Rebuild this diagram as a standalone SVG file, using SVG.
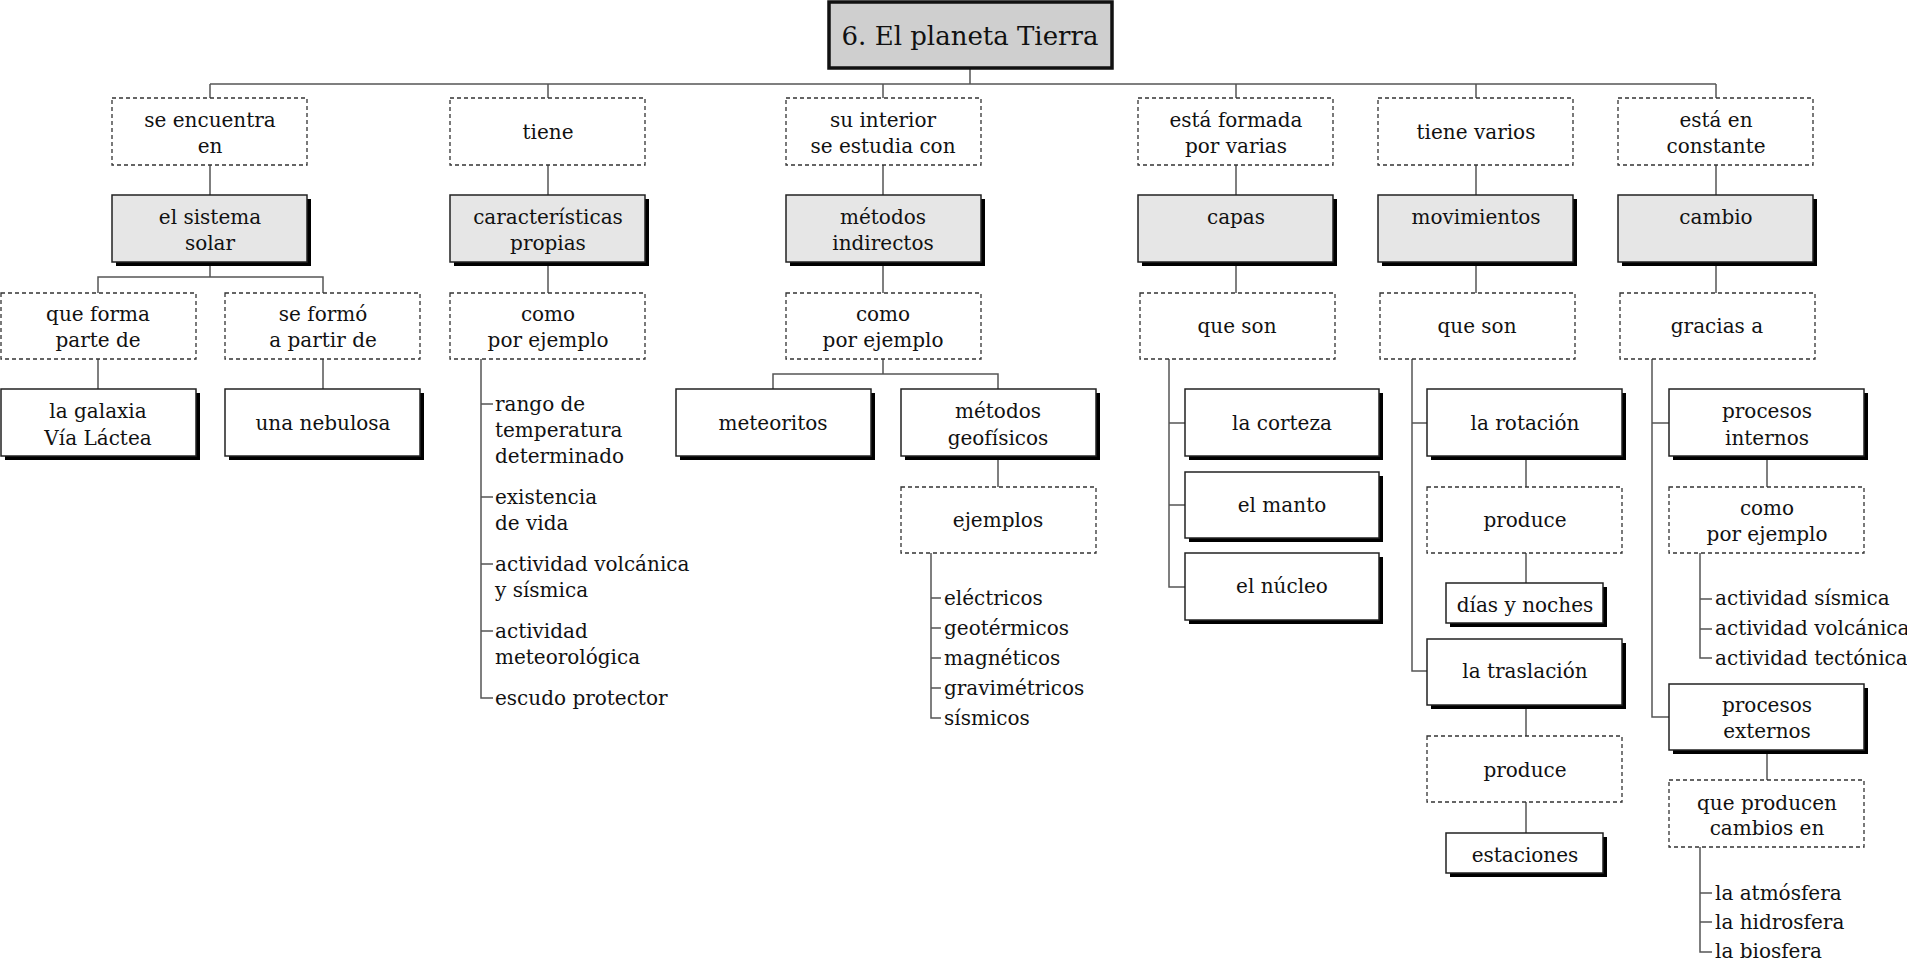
<svg xmlns="http://www.w3.org/2000/svg" width="1907" height="964" viewBox="0 0 1907 964">
<style>
.d{fill:#fff;stroke:#333;stroke-width:1.3;stroke-dasharray:4 3}
.g{fill:#e6e6e6;stroke:#222;stroke-width:1.5}
.w{fill:#fff;stroke:#222;stroke-width:1.5}
.sh{fill:#000}
.t{font-family:"DejaVu Serif","Liberation Serif",serif;font-size:20px;fill:#111;text-anchor:middle}
.l{font-family:"DejaVu Serif","Liberation Serif",serif;font-size:20px;fill:#111;text-anchor:start}
.c{fill:none;stroke:#555;stroke-width:1.5}
</style>
<rect width="1907" height="964" fill="#fff"/>
<g id="connectors">
<path class="c" d="M970 69V84M210 84H1716M210 84V98M548 84V98M883 84V98M1236 84V98M1476 84V98M1716 84V98"/>
<path class="c" d="M210 165V195M548 165V195M883 165V195M1236 165V195M1476 165V195M1716 165V195"/>
<path class="c" d="M210 262V277M98 293V277H323V293M548 262V293M883 262V293M1236 262V293M1476 262V293M1716 262V293"/>
<path class="c" d="M98 359V389M323 359V389"/>
<path class="c" d="M481 359V698H493M481 404H493M481 497H493M481 564H493M481 631H493"/>
<path class="c" d="M883 359V374M773 389V374H998V389M998 456V487"/>
<path class="c" d="M931 553V718H941M931 598H941M931 628H941M931 658H941M931 688H941"/>
<path class="c" d="M1169 359V587H1185M1169 423H1185M1169 505H1185"/>
<path class="c" d="M1412 359V671H1427M1412 423H1427M1526 456V487M1526 553V583M1526 705V736M1526 802V833"/>
<path class="c" d="M1652 359V717H1669M1652 423H1669M1767 456V487M1767 750V780"/>
<path class="c" d="M1700 553V658H1712M1700 599H1712M1700 629H1712"/>
<path class="c" d="M1700 847V952H1712M1700 893H1712M1700 922H1712"/>
</g>
<g id="title">
<rect x="829" y="2" width="283" height="66" fill="#cfcfcf" stroke="#111" stroke-width="3.5"/>
<text class="t" x="970" y="45" style="font-size:26px">6. El planeta Tierra</text>
</g>
<g id="se-encuentra-en"><rect class="d" x="112" y="98" width="195" height="67"/><text class="t" x="210" y="127">se encuentra</text><text class="t" x="210" y="153">en</text></g>
<g id="tiene"><rect class="d" x="450" y="98" width="195" height="67"/><text class="t" x="548" y="139">tiene</text></g>
<g id="su-interior"><rect class="d" x="786" y="98" width="195" height="67"/><text class="t" x="883" y="127">su interior</text><text class="t" x="883" y="153">se estudia con</text></g>
<g id="esta-formada"><rect class="d" x="1138" y="98" width="195" height="67"/><text class="t" x="1236" y="127">está formada</text><text class="t" x="1236" y="153">por varias</text></g>
<g id="tiene-varios"><rect class="d" x="1378" y="98" width="195" height="67"/><text class="t" x="1476" y="139">tiene varios</text></g>
<g id="esta-en-constante"><rect class="d" x="1618" y="98" width="195" height="67"/><text class="t" x="1716" y="127">está en</text><text class="t" x="1716" y="153">constante</text></g>

<g id="sistema-solar"><rect class="sh" x="116" y="199" width="195" height="67"/><rect class="g" x="112" y="195" width="195" height="67"/><text class="t" x="210" y="224">el sistema</text><text class="t" x="210" y="250">solar</text></g>
<g id="caracteristicas"><rect class="sh" x="454" y="199" width="195" height="67"/><rect class="g" x="450" y="195" width="195" height="67"/><text class="t" x="548" y="224">características</text><text class="t" x="548" y="250">propias</text></g>
<g id="metodos-indirectos"><rect class="sh" x="790" y="199" width="195" height="67"/><rect class="g" x="786" y="195" width="195" height="67"/><text class="t" x="883" y="224">métodos</text><text class="t" x="883" y="250">indirectos</text></g>
<g id="capas"><rect class="sh" x="1142" y="199" width="195" height="67"/><rect class="g" x="1138" y="195" width="195" height="67"/><text class="t" x="1236" y="224">capas</text></g>
<g id="movimientos"><rect class="sh" x="1382" y="199" width="195" height="67"/><rect class="g" x="1378" y="195" width="195" height="67"/><text class="t" x="1476" y="224">movimientos</text></g>
<g id="cambio"><rect class="sh" x="1622" y="199" width="195" height="67"/><rect class="g" x="1618" y="195" width="195" height="67"/><text class="t" x="1716" y="224">cambio</text></g>

<g id="que-forma-parte"><rect class="d" x="1" y="293" width="195" height="66"/><text class="t" x="98" y="321">que forma</text><text class="t" x="98" y="347">parte de</text></g>
<g id="se-formo"><rect class="d" x="225" y="293" width="195" height="66"/><text class="t" x="323" y="321">se formó</text><text class="t" x="323" y="347">a partir de</text></g>
<g id="como-ej-1"><rect class="d" x="450" y="293" width="195" height="66"/><text class="t" x="548" y="321">como</text><text class="t" x="548" y="347">por ejemplo</text></g>
<g id="como-ej-2"><rect class="d" x="786" y="293" width="195" height="66"/><text class="t" x="883" y="321">como</text><text class="t" x="883" y="347">por ejemplo</text></g>
<g id="que-son-1"><rect class="d" x="1140" y="293" width="195" height="66"/><text class="t" x="1237" y="333">que son</text></g>
<g id="que-son-2"><rect class="d" x="1380" y="293" width="195" height="66"/><text class="t" x="1477" y="333">que son</text></g>
<g id="gracias-a"><rect class="d" x="1620" y="293" width="195" height="66"/><text class="t" x="1717" y="333">gracias a</text></g>

<g id="galaxia"><rect class="sh" x="5" y="393" width="195" height="67"/><rect class="w" x="1" y="389" width="195" height="67"/><text class="t" x="98" y="418">la galaxia</text><text class="t" x="98" y="445">Vía Láctea</text></g>
<g id="nebulosa"><rect class="sh" x="229" y="393" width="195" height="67"/><rect class="w" x="225" y="389" width="195" height="67"/><text class="t" x="323" y="430">una nebulosa</text></g>

<g id="rango"><text class="l" x="495" y="411">rango de</text><text class="l" x="495" y="437">temperatura</text><text class="l" x="495" y="463">determinado</text></g>
<g id="existencia"><text class="l" x="495" y="504">existencia</text><text class="l" x="495" y="530">de vida</text></g>
<g id="act-volc-sism"><text class="l" x="495" y="571">actividad volcánica</text><text class="l" x="495" y="597">y sísmica</text></g>
<g id="act-meteo"><text class="l" x="495" y="638">actividad</text><text class="l" x="495" y="664">meteorológica</text></g>
<g id="escudo"><text class="l" x="495" y="705">escudo protector</text></g>

<g id="meteoritos"><rect class="sh" x="680" y="393" width="195" height="67"/><rect class="w" x="676" y="389" width="195" height="67"/><text class="t" x="773" y="430">meteoritos</text></g>
<g id="metodos-geofisicos"><rect class="sh" x="905" y="393" width="195" height="67"/><rect class="w" x="901" y="389" width="195" height="67"/><text class="t" x="998" y="418">métodos</text><text class="t" x="998" y="445">geofísicos</text></g>
<g id="ejemplos"><rect class="d" x="901" y="487" width="195" height="66"/><text class="t" x="998" y="527">ejemplos</text></g>
<g id="electricos"><text class="l" x="944" y="605">eléctricos</text></g>
<g id="geotermicos"><text class="l" x="944" y="635">geotérmicos</text></g>
<g id="magneticos"><text class="l" x="944" y="665">magnéticos</text></g>
<g id="gravimetricos"><text class="l" x="944" y="695">gravimétricos</text></g>
<g id="sismicos"><text class="l" x="944" y="725">sísmicos</text></g>

<g id="corteza"><rect class="sh" x="1189" y="393" width="194" height="67"/><rect class="w" x="1185" y="389" width="194" height="67"/><text class="t" x="1282" y="430">la corteza</text></g>
<g id="manto"><rect class="sh" x="1189" y="476" width="194" height="66"/><rect class="w" x="1185" y="472" width="194" height="66"/><text class="t" x="1282" y="512">el manto</text></g>
<g id="nucleo"><rect class="sh" x="1189" y="557" width="194" height="67"/><rect class="w" x="1185" y="553" width="194" height="67"/><text class="t" x="1282" y="593">el núcleo</text></g>

<g id="rotacion"><rect class="sh" x="1431" y="393" width="195" height="67"/><rect class="w" x="1427" y="389" width="195" height="67"/><text class="t" x="1525" y="430">la rotación</text></g>
<g id="produce-1"><rect class="d" x="1427" y="487" width="195" height="66"/><text class="t" x="1525" y="527">produce</text></g>
<g id="dias-noches"><rect class="sh" x="1450" y="587" width="157" height="40"/><rect class="w" x="1446" y="583" width="157" height="40"/><text class="t" x="1525" y="612">días y noches</text></g>
<g id="traslacion"><rect class="sh" x="1431" y="643" width="195" height="66"/><rect class="w" x="1427" y="639" width="195" height="66"/><text class="t" x="1525" y="678">la traslación</text></g>
<g id="produce-2"><rect class="d" x="1427" y="736" width="195" height="66"/><text class="t" x="1525" y="777">produce</text></g>
<g id="estaciones"><rect class="sh" x="1450" y="837" width="157" height="40"/><rect class="w" x="1446" y="833" width="157" height="40"/><text class="t" x="1525" y="862">estaciones</text></g>

<g id="procesos-internos"><rect class="sh" x="1673" y="393" width="195" height="67"/><rect class="w" x="1669" y="389" width="195" height="67"/><text class="t" x="1767" y="418">procesos</text><text class="t" x="1767" y="445">internos</text></g>
<g id="como-ej-3"><rect class="d" x="1669" y="487" width="195" height="66"/><text class="t" x="1767" y="515">como</text><text class="t" x="1767" y="541">por ejemplo</text></g>
<g id="act-sismica"><text class="l" x="1715" y="605">actividad sísmica</text></g>
<g id="act-volcanica"><text class="l" x="1715" y="635">actividad volcánica</text></g>
<g id="act-tectonica"><text class="l" x="1715" y="665">actividad tectónica</text></g>
<g id="procesos-externos"><rect class="sh" x="1673" y="688" width="195" height="66"/><rect class="w" x="1669" y="684" width="195" height="66"/><text class="t" x="1767" y="712">procesos</text><text class="t" x="1767" y="738">externos</text></g>
<g id="que-producen"><rect class="d" x="1669" y="780" width="195" height="67"/><text class="t" x="1767" y="810">que producen</text><text class="t" x="1767" y="835">cambios en</text></g>
<g id="atmosfera"><text class="l" x="1715" y="900">la atmósfera</text></g>
<g id="hidrosfera"><text class="l" x="1715" y="929">la hidrosfera</text></g>
<g id="biosfera"><text class="l" x="1715" y="958">la biosfera</text></g>
</svg>
